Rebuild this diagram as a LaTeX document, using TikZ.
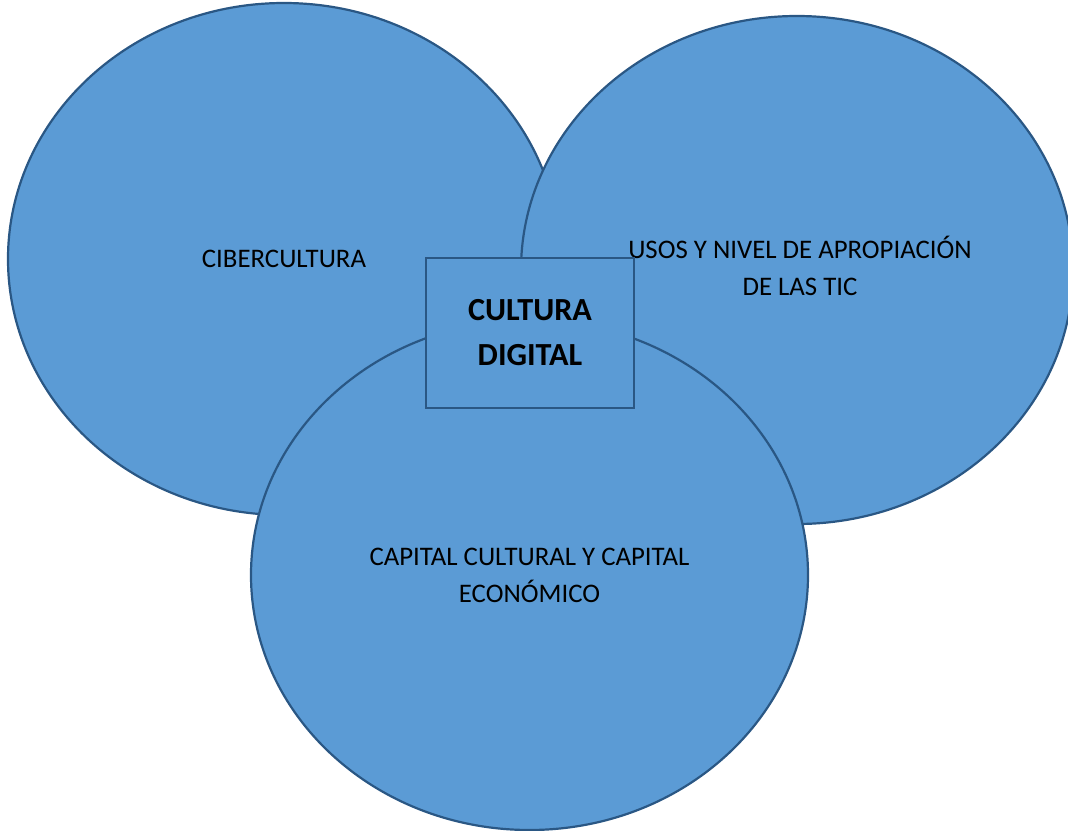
\documentclass[tikz,border=0pt]{standalone}
\usepackage{fontspec}
\setmainfont{Carlito}
\usetikzlibrary{shapes.geometric}
\definecolor{fillblue}{HTML}{5B9BD5}
\definecolor{lineblue}{HTML}{2A5784}
\tikzset{
  bubble/.style={ellipse, draw=lineblue, fill=fillblue, line width=2.2pt, inner sep=0pt,
    align=center, font=\fontsize{26.8}{37}\selectfont},
  centerbox/.style={rectangle, draw=lineblue, fill=fillblue, line width=2.2pt, inner sep=0pt,
    align=center, minimum width=208pt, minimum height=150pt,
    font=\fontsize{32.2}{45}\selectfont\bfseries}
}
\begin{document}
\begin{tikzpicture}[x=1pt, y=-1pt]
\useasboundingbox (0,0) rectangle (1068,830);
\node[bubble, minimum width=552pt, minimum height=512pt] (cib) at (284,259) {CIBERCULTURA};
\node[bubble, minimum width=552pt, minimum height=508pt] (usos) at (797,270) {};
\node[align=center, font=\fontsize{26.8}{37}\selectfont, inner sep=0pt] (usostext) at (800,266) {USOS Y NIVEL DE APROPIACIÓN\\DE LAS TIC};
\node[bubble, minimum width=557pt, minimum height=510pt] (cap) at (529.5,575) {CAPITAL CULTURAL Y CAPITAL\\ECONÓMICO};
\node[centerbox] (cd) at (530,333) {CULTURA\\DIGITAL};
\end{tikzpicture}
\end{document}
